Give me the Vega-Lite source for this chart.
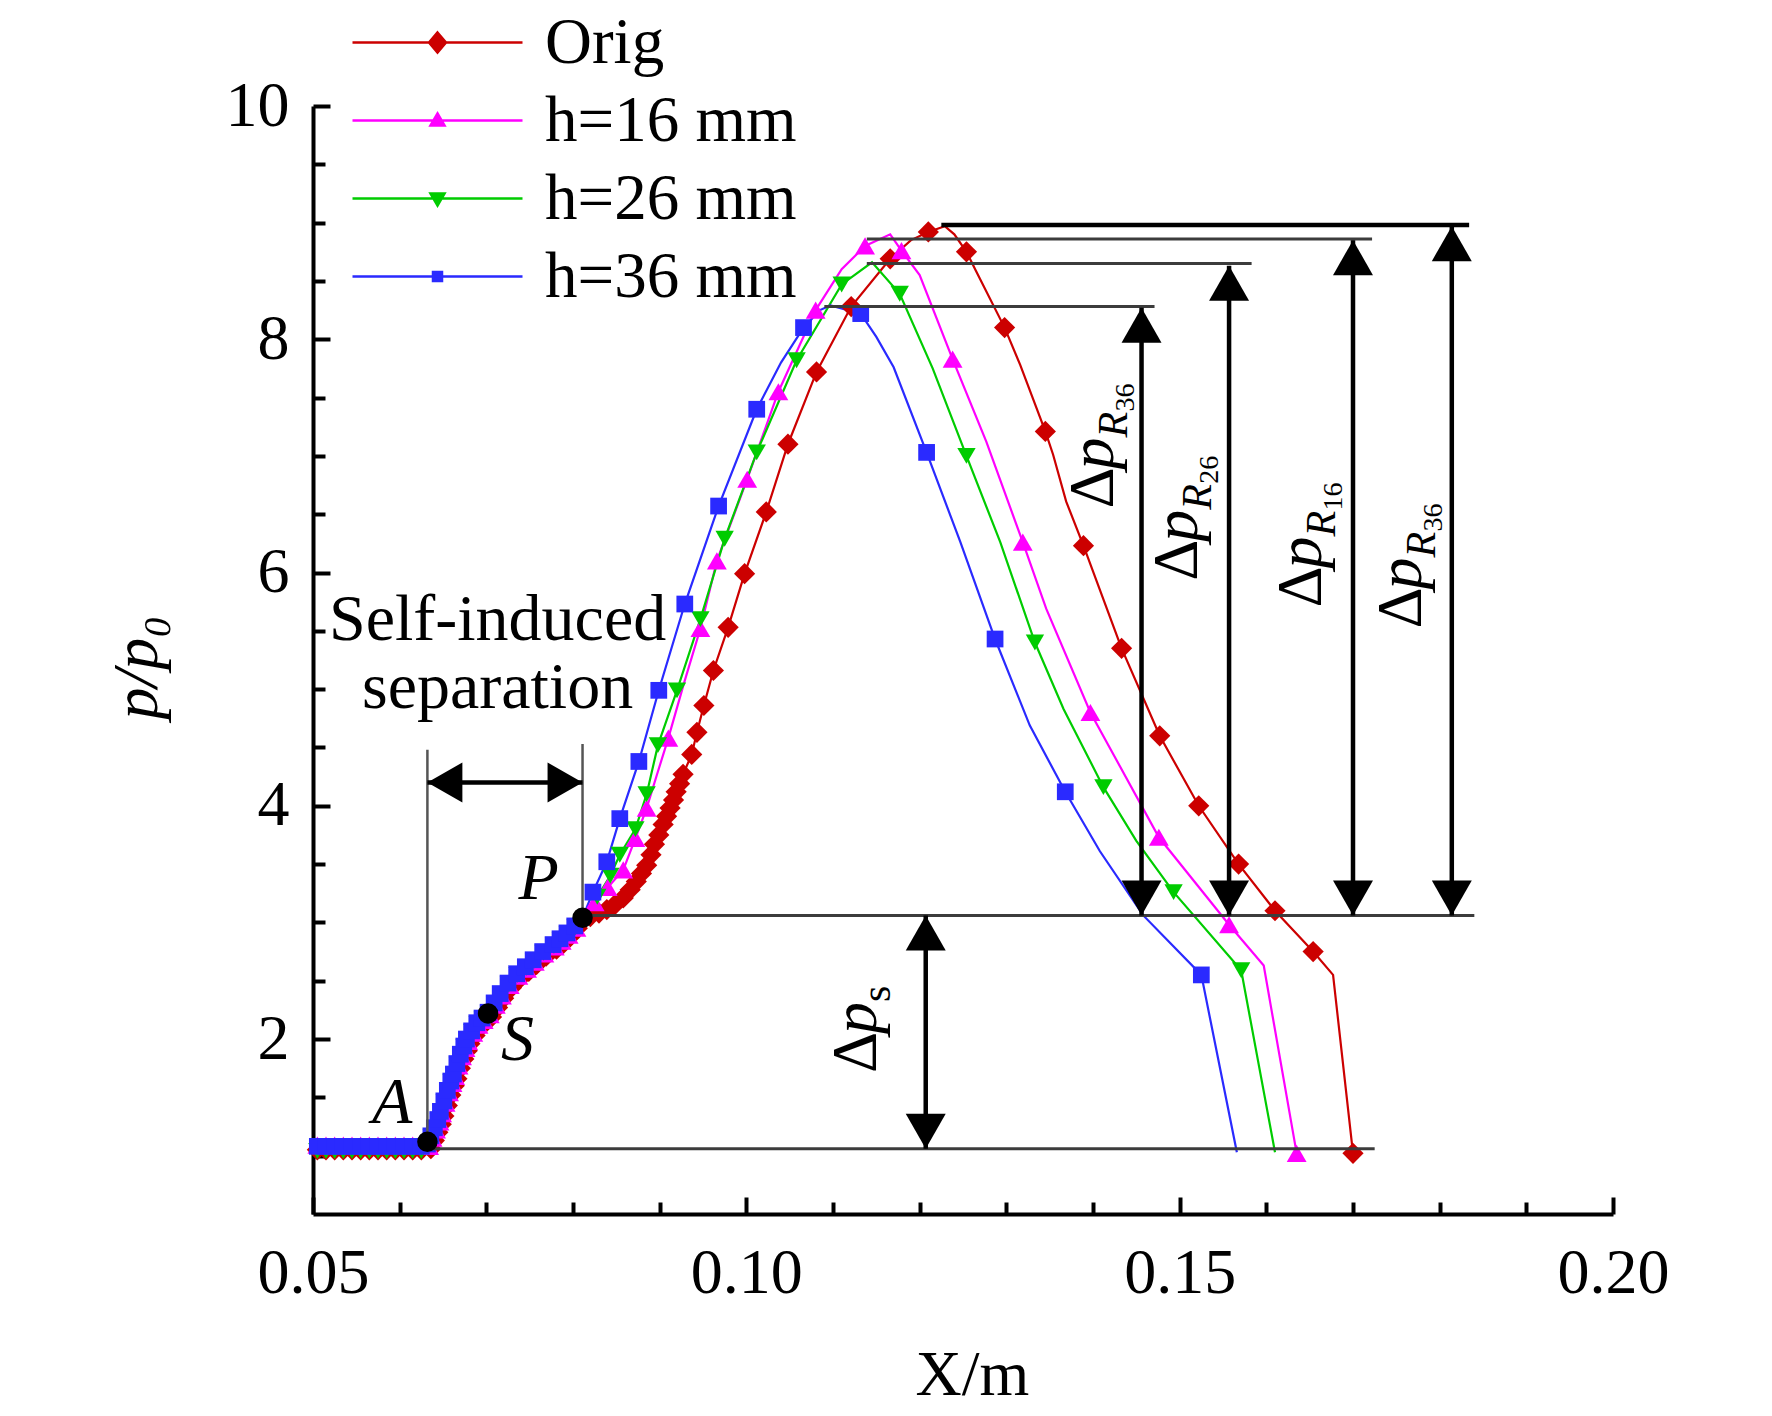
{
  "$schema": "https://vega.github.io/schema/vega-lite/v6.json",
  "width": 1300,
  "height": 1108,
  "autosize": "none",
  "padding": {"left": 313, "top": 106, "right": 159, "bottom": 202},
  "background": "white",
  "config": {
    "view": {"stroke": null},
    "font": "Liberation Serif",
    "axis": {"labelFont": "Liberation Serif", "titleFont": "Liberation Serif", "labelColor": "black", "titleColor": "black"}
  },
  "datasets": {
    "lines": [
      {"series": "Orig", "x": 0.0500, "y": 1.05}, {"series": "Orig", "x": 0.0634, "y": 1.05},
      {"series": "Orig", "x": 0.0640, "y": 1.13}, {"series": "Orig", "x": 0.0644, "y": 1.20},
      {"series": "Orig", "x": 0.0651, "y": 1.34}, {"series": "Orig", "x": 0.0659, "y": 1.52},
      {"series": "Orig", "x": 0.0666, "y": 1.66}, {"series": "Orig", "x": 0.0674, "y": 1.83},
      {"series": "Orig", "x": 0.0681, "y": 1.96}, {"series": "Orig", "x": 0.0693, "y": 2.10},
      {"series": "Orig", "x": 0.0706, "y": 2.19}, {"series": "Orig", "x": 0.0720, "y": 2.35},
      {"series": "Orig", "x": 0.0739, "y": 2.52}, {"series": "Orig", "x": 0.0758, "y": 2.64},
      {"series": "Orig", "x": 0.0781, "y": 2.77}, {"series": "Orig", "x": 0.0797, "y": 2.88},
      {"series": "Orig", "x": 0.0811, "y": 3.03}, {"series": "Orig", "x": 0.0820, "y": 3.05},
      {"series": "Orig", "x": 0.0830, "y": 3.08}, {"series": "Orig", "x": 0.0839, "y": 3.11},
      {"series": "Orig", "x": 0.0848, "y": 3.15}, {"series": "Orig", "x": 0.0858, "y": 3.21},
      {"series": "Orig", "x": 0.0866, "y": 3.28}, {"series": "Orig", "x": 0.0873, "y": 3.35},
      {"series": "Orig", "x": 0.0879, "y": 3.42}, {"series": "Orig", "x": 0.0885, "y": 3.49},
      {"series": "Orig", "x": 0.0890, "y": 3.58}, {"series": "Orig", "x": 0.0894, "y": 3.67},
      {"series": "Orig", "x": 0.0899, "y": 3.75}, {"series": "Orig", "x": 0.0904, "y": 3.84},
      {"series": "Orig", "x": 0.0908, "y": 3.91}, {"series": "Orig", "x": 0.0912, "y": 3.98},
      {"series": "Orig", "x": 0.0916, "y": 4.05}, {"series": "Orig", "x": 0.0919, "y": 4.12},
      {"series": "Orig", "x": 0.0923, "y": 4.19}, {"series": "Orig", "x": 0.0927, "y": 4.27},
      {"series": "Orig", "x": 0.0937, "y": 4.44}, {"series": "Orig", "x": 0.0943, "y": 4.63},
      {"series": "Orig", "x": 0.0951, "y": 4.86}, {"series": "Orig", "x": 0.0962, "y": 5.16},
      {"series": "Orig", "x": 0.0979, "y": 5.53}, {"series": "Orig", "x": 0.0998, "y": 5.99},
      {"series": "Orig", "x": 0.1023, "y": 6.52}, {"series": "Orig", "x": 0.1048, "y": 7.10},
      {"series": "Orig", "x": 0.1081, "y": 7.72}, {"series": "Orig", "x": 0.1121, "y": 8.28},
      {"series": "Orig", "x": 0.1166, "y": 8.69}, {"series": "Orig", "x": 0.1190, "y": 8.85},
      {"series": "Orig", "x": 0.1210, "y": 8.92}, {"series": "Orig", "x": 0.1229, "y": 8.97},
      {"series": "Orig", "x": 0.1240, "y": 8.90}, {"series": "Orig", "x": 0.1254, "y": 8.75},
      {"series": "Orig", "x": 0.1264, "y": 8.60}, {"series": "Orig", "x": 0.1298, "y": 8.10},
      {"series": "Orig", "x": 0.1316, "y": 7.78}, {"series": "Orig", "x": 0.1345, "y": 7.21},
      {"series": "Orig", "x": 0.1354, "y": 7.01}, {"series": "Orig", "x": 0.1369, "y": 6.61},
      {"series": "Orig", "x": 0.1389, "y": 6.23}, {"series": "Orig", "x": 0.1433, "y": 5.35},
      {"series": "Orig", "x": 0.1477, "y": 4.60}, {"series": "Orig", "x": 0.1522, "y": 4.00},
      {"series": "Orig", "x": 0.1568, "y": 3.50}, {"series": "Orig", "x": 0.1610, "y": 3.10},
      {"series": "Orig", "x": 0.1654, "y": 2.75}, {"series": "Orig", "x": 0.1677, "y": 2.55},
      {"series": "Orig", "x": 0.1700, "y": 1.02},

      {"series": "h=16 mm", "x": 0.0500, "y": 1.09}, {"series": "h=16 mm", "x": 0.0632, "y": 1.09},
      {"series": "h=16 mm", "x": 0.0638, "y": 1.15}, {"series": "h=16 mm", "x": 0.0642, "y": 1.22},
      {"series": "h=16 mm", "x": 0.0649, "y": 1.36}, {"series": "h=16 mm", "x": 0.0657, "y": 1.54},
      {"series": "h=16 mm", "x": 0.0664, "y": 1.68}, {"series": "h=16 mm", "x": 0.0672, "y": 1.85},
      {"series": "h=16 mm", "x": 0.0679, "y": 1.98}, {"series": "h=16 mm", "x": 0.0691, "y": 2.12},
      {"series": "h=16 mm", "x": 0.0704, "y": 2.21}, {"series": "h=16 mm", "x": 0.0718, "y": 2.37},
      {"series": "h=16 mm", "x": 0.0737, "y": 2.54}, {"series": "h=16 mm", "x": 0.0756, "y": 2.66},
      {"series": "h=16 mm", "x": 0.0779, "y": 2.79}, {"series": "h=16 mm", "x": 0.0795, "y": 2.89},
      {"series": "h=16 mm", "x": 0.0811, "y": 3.04}, {"series": "h=16 mm", "x": 0.0825, "y": 3.17},
      {"series": "h=16 mm", "x": 0.0840, "y": 3.30}, {"series": "h=16 mm", "x": 0.0858, "y": 3.45},
      {"series": "h=16 mm", "x": 0.0872, "y": 3.72}, {"series": "h=16 mm", "x": 0.0885, "y": 3.98},
      {"series": "h=16 mm", "x": 0.0897, "y": 4.27}, {"series": "h=16 mm", "x": 0.0910, "y": 4.58},
      {"series": "h=16 mm", "x": 0.0928, "y": 5.05}, {"series": "h=16 mm", "x": 0.0947, "y": 5.52},
      {"series": "h=16 mm", "x": 0.0966, "y": 6.10}, {"series": "h=16 mm", "x": 0.1001, "y": 6.80},
      {"series": "h=16 mm", "x": 0.1037, "y": 7.55}, {"series": "h=16 mm", "x": 0.1080, "y": 8.25},
      {"series": "h=16 mm", "x": 0.1110, "y": 8.60}, {"series": "h=16 mm", "x": 0.1137, "y": 8.80},
      {"series": "h=16 mm", "x": 0.1166, "y": 8.90}, {"series": "h=16 mm", "x": 0.1179, "y": 8.76},
      {"series": "h=16 mm", "x": 0.1200, "y": 8.55}, {"series": "h=16 mm", "x": 0.1238, "y": 7.83},
      {"series": "h=16 mm", "x": 0.1277, "y": 7.12}, {"series": "h=16 mm", "x": 0.1319, "y": 6.26},
      {"series": "h=16 mm", "x": 0.1346, "y": 5.69}, {"series": "h=16 mm", "x": 0.1397, "y": 4.80},
      {"series": "h=16 mm", "x": 0.1476, "y": 3.73}, {"series": "h=16 mm", "x": 0.1557, "y": 2.98},
      {"series": "h=16 mm", "x": 0.1597, "y": 2.63}, {"series": "h=16 mm", "x": 0.1635, "y": 1.02},

      {"series": "h=26 mm", "x": 0.0500, "y": 1.04}, {"series": "h=26 mm", "x": 0.0631, "y": 1.04},
      {"series": "h=26 mm", "x": 0.0637, "y": 1.16}, {"series": "h=26 mm", "x": 0.0641, "y": 1.23},
      {"series": "h=26 mm", "x": 0.0648, "y": 1.37}, {"series": "h=26 mm", "x": 0.0656, "y": 1.55},
      {"series": "h=26 mm", "x": 0.0663, "y": 1.69}, {"series": "h=26 mm", "x": 0.0671, "y": 1.86},
      {"series": "h=26 mm", "x": 0.0678, "y": 1.99}, {"series": "h=26 mm", "x": 0.0690, "y": 2.13},
      {"series": "h=26 mm", "x": 0.0703, "y": 2.22}, {"series": "h=26 mm", "x": 0.0717, "y": 2.38},
      {"series": "h=26 mm", "x": 0.0736, "y": 2.55}, {"series": "h=26 mm", "x": 0.0755, "y": 2.67},
      {"series": "h=26 mm", "x": 0.0778, "y": 2.80}, {"series": "h=26 mm", "x": 0.0794, "y": 2.90},
      {"series": "h=26 mm", "x": 0.0811, "y": 3.04}, {"series": "h=26 mm", "x": 0.0828, "y": 3.22},
      {"series": "h=26 mm", "x": 0.0843, "y": 3.40}, {"series": "h=26 mm", "x": 0.0854, "y": 3.58},
      {"series": "h=26 mm", "x": 0.0872, "y": 3.80}, {"series": "h=26 mm", "x": 0.0885, "y": 4.10},
      {"series": "h=26 mm", "x": 0.0898, "y": 4.52}, {"series": "h=26 mm", "x": 0.0920, "y": 4.99},
      {"series": "h=26 mm", "x": 0.0947, "y": 5.60}, {"series": "h=26 mm", "x": 0.0975, "y": 6.29},
      {"series": "h=26 mm", "x": 0.1012, "y": 7.03}, {"series": "h=26 mm", "x": 0.1058, "y": 7.82},
      {"series": "h=26 mm", "x": 0.1110, "y": 8.47}, {"series": "h=26 mm", "x": 0.1145, "y": 8.66},
      {"series": "h=26 mm", "x": 0.1177, "y": 8.39}, {"series": "h=26 mm", "x": 0.1215, "y": 7.75},
      {"series": "h=26 mm", "x": 0.1254, "y": 7.00}, {"series": "h=26 mm", "x": 0.1293, "y": 6.26},
      {"series": "h=26 mm", "x": 0.1333, "y": 5.40}, {"series": "h=26 mm", "x": 0.1366, "y": 4.83},
      {"series": "h=26 mm", "x": 0.1412, "y": 4.16}, {"series": "h=26 mm", "x": 0.1450, "y": 3.70},
      {"series": "h=26 mm", "x": 0.1493, "y": 3.26}, {"series": "h=26 mm", "x": 0.1571, "y": 2.59},
      {"series": "h=26 mm", "x": 0.1610, "y": 1.03},

      {"series": "h=36 mm", "x": 0.0500, "y": 1.08}, {"series": "h=36 mm", "x": 0.0630, "y": 1.08},
      {"series": "h=36 mm", "x": 0.0632, "y": 1.10}, {"series": "h=36 mm", "x": 0.0640, "y": 1.24},
      {"series": "h=36 mm", "x": 0.0647, "y": 1.38}, {"series": "h=36 mm", "x": 0.0655, "y": 1.56},
      {"series": "h=36 mm", "x": 0.0662, "y": 1.70}, {"series": "h=36 mm", "x": 0.0670, "y": 1.87},
      {"series": "h=36 mm", "x": 0.0677, "y": 2.00}, {"series": "h=36 mm", "x": 0.0689, "y": 2.14},
      {"series": "h=36 mm", "x": 0.0702, "y": 2.23}, {"series": "h=36 mm", "x": 0.0716, "y": 2.39},
      {"series": "h=36 mm", "x": 0.0735, "y": 2.56}, {"series": "h=36 mm", "x": 0.0754, "y": 2.68},
      {"series": "h=36 mm", "x": 0.0777, "y": 2.81}, {"series": "h=36 mm", "x": 0.0793, "y": 2.91},
      {"series": "h=36 mm", "x": 0.0811, "y": 3.04}, {"series": "h=36 mm", "x": 0.0823, "y": 3.26},
      {"series": "h=36 mm", "x": 0.0839, "y": 3.52}, {"series": "h=36 mm", "x": 0.0854, "y": 3.89},
      {"series": "h=36 mm", "x": 0.0876, "y": 4.38}, {"series": "h=36 mm", "x": 0.0899, "y": 4.99},
      {"series": "h=36 mm", "x": 0.0929, "y": 5.73}, {"series": "h=36 mm", "x": 0.0968, "y": 6.57},
      {"series": "h=36 mm", "x": 0.1012, "y": 7.40}, {"series": "h=36 mm", "x": 0.1040, "y": 7.80},
      {"series": "h=36 mm", "x": 0.1066, "y": 8.10}, {"series": "h=36 mm", "x": 0.1085, "y": 8.25},
      {"series": "h=36 mm", "x": 0.1097, "y": 8.29}, {"series": "h=36 mm", "x": 0.1132, "y": 8.22},
      {"series": "h=36 mm", "x": 0.1150, "y": 8.02}, {"series": "h=36 mm", "x": 0.1170, "y": 7.76},
      {"series": "h=36 mm", "x": 0.1208, "y": 7.03}, {"series": "h=36 mm", "x": 0.1247, "y": 6.26},
      {"series": "h=36 mm", "x": 0.1287, "y": 5.43}, {"series": "h=36 mm", "x": 0.1327, "y": 4.69},
      {"series": "h=36 mm", "x": 0.1368, "y": 4.12}, {"series": "h=36 mm", "x": 0.1408, "y": 3.61},
      {"series": "h=36 mm", "x": 0.1458, "y": 3.06}, {"series": "h=36 mm", "x": 0.1525, "y": 2.55},
      {"series": "h=36 mm", "x": 0.1566, "y": 1.03}
    ],
    "markers": [
      {"series": "Orig", "x": 0.0505, "y": 1.05}, {"series": "Orig", "x": 0.0515, "y": 1.05},
      {"series": "Orig", "x": 0.0525, "y": 1.05}, {"series": "Orig", "x": 0.0535, "y": 1.05},
      {"series": "Orig", "x": 0.0545, "y": 1.05}, {"series": "Orig", "x": 0.0555, "y": 1.05},
      {"series": "Orig", "x": 0.0565, "y": 1.05}, {"series": "Orig", "x": 0.0575, "y": 1.05},
      {"series": "Orig", "x": 0.0585, "y": 1.05}, {"series": "Orig", "x": 0.0595, "y": 1.05},
      {"series": "Orig", "x": 0.0605, "y": 1.05}, {"series": "Orig", "x": 0.0615, "y": 1.05},
      {"series": "Orig", "x": 0.0625, "y": 1.05}, {"series": "Orig", "x": 0.0636, "y": 1.06},
      {"series": "Orig", "x": 0.0640, "y": 1.13}, {"series": "Orig", "x": 0.0644, "y": 1.20},
      {"series": "Orig", "x": 0.0648, "y": 1.27}, {"series": "Orig", "x": 0.0651, "y": 1.34},
      {"series": "Orig", "x": 0.0655, "y": 1.43}, {"series": "Orig", "x": 0.0659, "y": 1.52},
      {"series": "Orig", "x": 0.0663, "y": 1.60}, {"series": "Orig", "x": 0.0666, "y": 1.66},
      {"series": "Orig", "x": 0.0670, "y": 1.75}, {"series": "Orig", "x": 0.0674, "y": 1.83},
      {"series": "Orig", "x": 0.0678, "y": 1.90}, {"series": "Orig", "x": 0.0681, "y": 1.96},
      {"series": "Orig", "x": 0.0687, "y": 2.03}, {"series": "Orig", "x": 0.0693, "y": 2.10},
      {"series": "Orig", "x": 0.0699, "y": 2.14}, {"series": "Orig", "x": 0.0706, "y": 2.19},
      {"series": "Orig", "x": 0.0713, "y": 2.27}, {"series": "Orig", "x": 0.0720, "y": 2.35},
      {"series": "Orig", "x": 0.0729, "y": 2.44}, {"series": "Orig", "x": 0.0739, "y": 2.52},
      {"series": "Orig", "x": 0.0749, "y": 2.58}, {"series": "Orig", "x": 0.0758, "y": 2.64},
      {"series": "Orig", "x": 0.0769, "y": 2.71}, {"series": "Orig", "x": 0.0781, "y": 2.77},
      {"series": "Orig", "x": 0.0789, "y": 2.82}, {"series": "Orig", "x": 0.0797, "y": 2.88},
      {"series": "Orig", "x": 0.0805, "y": 2.95}, {"series": "Orig", "x": 0.0820, "y": 3.05},
      {"series": "Orig", "x": 0.0830, "y": 3.08}, {"series": "Orig", "x": 0.0839, "y": 3.11},
      {"series": "Orig", "x": 0.0848, "y": 3.15}, {"series": "Orig", "x": 0.0858, "y": 3.21},
      {"series": "Orig", "x": 0.0866, "y": 3.28}, {"series": "Orig", "x": 0.0873, "y": 3.35},
      {"series": "Orig", "x": 0.0879, "y": 3.42}, {"series": "Orig", "x": 0.0885, "y": 3.49},
      {"series": "Orig", "x": 0.0890, "y": 3.58}, {"series": "Orig", "x": 0.0894, "y": 3.67},
      {"series": "Orig", "x": 0.0899, "y": 3.75}, {"series": "Orig", "x": 0.0904, "y": 3.84},
      {"series": "Orig", "x": 0.0908, "y": 3.91}, {"series": "Orig", "x": 0.0912, "y": 3.98},
      {"series": "Orig", "x": 0.0916, "y": 4.05}, {"series": "Orig", "x": 0.0919, "y": 4.12},
      {"series": "Orig", "x": 0.0923, "y": 4.19}, {"series": "Orig", "x": 0.0927, "y": 4.27},
      {"series": "Orig", "x": 0.0937, "y": 4.44}, {"series": "Orig", "x": 0.0943, "y": 4.63},
      {"series": "Orig", "x": 0.0951, "y": 4.86}, {"series": "Orig", "x": 0.0962, "y": 5.16},
      {"series": "Orig", "x": 0.0979, "y": 5.53}, {"series": "Orig", "x": 0.0998, "y": 5.99},
      {"series": "Orig", "x": 0.1023, "y": 6.52}, {"series": "Orig", "x": 0.1048, "y": 7.10},
      {"series": "Orig", "x": 0.1081, "y": 7.72}, {"series": "Orig", "x": 0.1121, "y": 8.28},
      {"series": "Orig", "x": 0.1166, "y": 8.69}, {"series": "Orig", "x": 0.1210, "y": 8.92},
      {"series": "Orig", "x": 0.1254, "y": 8.75}, {"series": "Orig", "x": 0.1298, "y": 8.10},
      {"series": "Orig", "x": 0.1345, "y": 7.21}, {"series": "Orig", "x": 0.1389, "y": 6.23},
      {"series": "Orig", "x": 0.1433, "y": 5.35}, {"series": "Orig", "x": 0.1477, "y": 4.60},
      {"series": "Orig", "x": 0.1522, "y": 4.00}, {"series": "Orig", "x": 0.1568, "y": 3.50},
      {"series": "Orig", "x": 0.1610, "y": 3.10}, {"series": "Orig", "x": 0.1654, "y": 2.75},
      {"series": "Orig", "x": 0.1700, "y": 1.02},

      {"series": "h=16 mm", "x": 0.0505, "y": 1.09}, {"series": "h=16 mm", "x": 0.0515, "y": 1.09},
      {"series": "h=16 mm", "x": 0.0525, "y": 1.09}, {"series": "h=16 mm", "x": 0.0535, "y": 1.09},
      {"series": "h=16 mm", "x": 0.0545, "y": 1.09}, {"series": "h=16 mm", "x": 0.0555, "y": 1.09},
      {"series": "h=16 mm", "x": 0.0565, "y": 1.09}, {"series": "h=16 mm", "x": 0.0575, "y": 1.09},
      {"series": "h=16 mm", "x": 0.0585, "y": 1.09}, {"series": "h=16 mm", "x": 0.0595, "y": 1.09},
      {"series": "h=16 mm", "x": 0.0605, "y": 1.09}, {"series": "h=16 mm", "x": 0.0615, "y": 1.09},
      {"series": "h=16 mm", "x": 0.0625, "y": 1.09}, {"series": "h=16 mm", "x": 0.0634, "y": 1.08},
      {"series": "h=16 mm", "x": 0.0638, "y": 1.15}, {"series": "h=16 mm", "x": 0.0642, "y": 1.22},
      {"series": "h=16 mm", "x": 0.0646, "y": 1.29}, {"series": "h=16 mm", "x": 0.0649, "y": 1.36},
      {"series": "h=16 mm", "x": 0.0653, "y": 1.45}, {"series": "h=16 mm", "x": 0.0657, "y": 1.54},
      {"series": "h=16 mm", "x": 0.0661, "y": 1.62}, {"series": "h=16 mm", "x": 0.0664, "y": 1.68},
      {"series": "h=16 mm", "x": 0.0668, "y": 1.77}, {"series": "h=16 mm", "x": 0.0672, "y": 1.85},
      {"series": "h=16 mm", "x": 0.0676, "y": 1.92}, {"series": "h=16 mm", "x": 0.0679, "y": 1.98},
      {"series": "h=16 mm", "x": 0.0685, "y": 2.05}, {"series": "h=16 mm", "x": 0.0691, "y": 2.12},
      {"series": "h=16 mm", "x": 0.0697, "y": 2.16}, {"series": "h=16 mm", "x": 0.0704, "y": 2.21},
      {"series": "h=16 mm", "x": 0.0711, "y": 2.29}, {"series": "h=16 mm", "x": 0.0718, "y": 2.37},
      {"series": "h=16 mm", "x": 0.0727, "y": 2.46}, {"series": "h=16 mm", "x": 0.0737, "y": 2.54},
      {"series": "h=16 mm", "x": 0.0747, "y": 2.60}, {"series": "h=16 mm", "x": 0.0756, "y": 2.66},
      {"series": "h=16 mm", "x": 0.0767, "y": 2.73}, {"series": "h=16 mm", "x": 0.0779, "y": 2.79},
      {"series": "h=16 mm", "x": 0.0787, "y": 2.84}, {"series": "h=16 mm", "x": 0.0795, "y": 2.89},
      {"series": "h=16 mm", "x": 0.0804, "y": 2.95}, {"series": "h=16 mm", "x": 0.0825, "y": 3.17},
      {"series": "h=16 mm", "x": 0.0840, "y": 3.30}, {"series": "h=16 mm", "x": 0.0858, "y": 3.45},
      {"series": "h=16 mm", "x": 0.0872, "y": 3.72}, {"series": "h=16 mm", "x": 0.0885, "y": 3.98},
      {"series": "h=16 mm", "x": 0.0910, "y": 4.58}, {"series": "h=16 mm", "x": 0.0947, "y": 5.52},
      {"series": "h=16 mm", "x": 0.0966, "y": 6.10}, {"series": "h=16 mm", "x": 0.1001, "y": 6.80},
      {"series": "h=16 mm", "x": 0.1037, "y": 7.55}, {"series": "h=16 mm", "x": 0.1080, "y": 8.25},
      {"series": "h=16 mm", "x": 0.1137, "y": 8.80}, {"series": "h=16 mm", "x": 0.1179, "y": 8.76},
      {"series": "h=16 mm", "x": 0.1238, "y": 7.83}, {"series": "h=16 mm", "x": 0.1319, "y": 6.26},
      {"series": "h=16 mm", "x": 0.1397, "y": 4.80}, {"series": "h=16 mm", "x": 0.1476, "y": 3.73},
      {"series": "h=16 mm", "x": 0.1557, "y": 2.98}, {"series": "h=16 mm", "x": 0.1635, "y": 1.02},

      {"series": "h=26 mm", "x": 0.0505, "y": 1.04}, {"series": "h=26 mm", "x": 0.0515, "y": 1.04},
      {"series": "h=26 mm", "x": 0.0525, "y": 1.04}, {"series": "h=26 mm", "x": 0.0535, "y": 1.04},
      {"series": "h=26 mm", "x": 0.0545, "y": 1.04}, {"series": "h=26 mm", "x": 0.0555, "y": 1.04},
      {"series": "h=26 mm", "x": 0.0565, "y": 1.04}, {"series": "h=26 mm", "x": 0.0575, "y": 1.04},
      {"series": "h=26 mm", "x": 0.0585, "y": 1.04}, {"series": "h=26 mm", "x": 0.0595, "y": 1.04},
      {"series": "h=26 mm", "x": 0.0605, "y": 1.04}, {"series": "h=26 mm", "x": 0.0615, "y": 1.04},
      {"series": "h=26 mm", "x": 0.0625, "y": 1.04}, {"series": "h=26 mm", "x": 0.0633, "y": 1.09},
      {"series": "h=26 mm", "x": 0.0637, "y": 1.16}, {"series": "h=26 mm", "x": 0.0641, "y": 1.23},
      {"series": "h=26 mm", "x": 0.0645, "y": 1.30}, {"series": "h=26 mm", "x": 0.0648, "y": 1.37},
      {"series": "h=26 mm", "x": 0.0652, "y": 1.46}, {"series": "h=26 mm", "x": 0.0656, "y": 1.55},
      {"series": "h=26 mm", "x": 0.0660, "y": 1.63}, {"series": "h=26 mm", "x": 0.0663, "y": 1.69},
      {"series": "h=26 mm", "x": 0.0667, "y": 1.78}, {"series": "h=26 mm", "x": 0.0671, "y": 1.86},
      {"series": "h=26 mm", "x": 0.0675, "y": 1.93}, {"series": "h=26 mm", "x": 0.0678, "y": 1.99},
      {"series": "h=26 mm", "x": 0.0684, "y": 2.06}, {"series": "h=26 mm", "x": 0.0690, "y": 2.13},
      {"series": "h=26 mm", "x": 0.0696, "y": 2.17}, {"series": "h=26 mm", "x": 0.0703, "y": 2.22},
      {"series": "h=26 mm", "x": 0.0710, "y": 2.30}, {"series": "h=26 mm", "x": 0.0717, "y": 2.38},
      {"series": "h=26 mm", "x": 0.0726, "y": 2.47}, {"series": "h=26 mm", "x": 0.0736, "y": 2.55},
      {"series": "h=26 mm", "x": 0.0746, "y": 2.61}, {"series": "h=26 mm", "x": 0.0755, "y": 2.67},
      {"series": "h=26 mm", "x": 0.0766, "y": 2.74}, {"series": "h=26 mm", "x": 0.0778, "y": 2.80},
      {"series": "h=26 mm", "x": 0.0786, "y": 2.85}, {"series": "h=26 mm", "x": 0.0794, "y": 2.90},
      {"series": "h=26 mm", "x": 0.0803, "y": 2.96}, {"series": "h=26 mm", "x": 0.0828, "y": 3.22},
      {"series": "h=26 mm", "x": 0.0843, "y": 3.40}, {"series": "h=26 mm", "x": 0.0854, "y": 3.58},
      {"series": "h=26 mm", "x": 0.0872, "y": 3.80}, {"series": "h=26 mm", "x": 0.0885, "y": 4.10},
      {"series": "h=26 mm", "x": 0.0898, "y": 4.52}, {"series": "h=26 mm", "x": 0.0920, "y": 4.99},
      {"series": "h=26 mm", "x": 0.0947, "y": 5.60}, {"series": "h=26 mm", "x": 0.0975, "y": 6.29},
      {"series": "h=26 mm", "x": 0.1012, "y": 7.03}, {"series": "h=26 mm", "x": 0.1058, "y": 7.82},
      {"series": "h=26 mm", "x": 0.1110, "y": 8.47}, {"series": "h=26 mm", "x": 0.1177, "y": 8.39},
      {"series": "h=26 mm", "x": 0.1254, "y": 7.00}, {"series": "h=26 mm", "x": 0.1333, "y": 5.40},
      {"series": "h=26 mm", "x": 0.1412, "y": 4.16}, {"series": "h=26 mm", "x": 0.1493, "y": 3.26},
      {"series": "h=26 mm", "x": 0.1571, "y": 2.59},

      {"series": "h=36 mm", "x": 0.0505, "y": 1.08}, {"series": "h=36 mm", "x": 0.0515, "y": 1.08},
      {"series": "h=36 mm", "x": 0.0525, "y": 1.08}, {"series": "h=36 mm", "x": 0.0535, "y": 1.08},
      {"series": "h=36 mm", "x": 0.0545, "y": 1.08}, {"series": "h=36 mm", "x": 0.0555, "y": 1.08},
      {"series": "h=36 mm", "x": 0.0565, "y": 1.08}, {"series": "h=36 mm", "x": 0.0575, "y": 1.08},
      {"series": "h=36 mm", "x": 0.0585, "y": 1.08}, {"series": "h=36 mm", "x": 0.0595, "y": 1.08},
      {"series": "h=36 mm", "x": 0.0605, "y": 1.08}, {"series": "h=36 mm", "x": 0.0615, "y": 1.08},
      {"series": "h=36 mm", "x": 0.0625, "y": 1.08}, {"series": "h=36 mm", "x": 0.0632, "y": 1.10},
      {"series": "h=36 mm", "x": 0.0636, "y": 1.17}, {"series": "h=36 mm", "x": 0.0640, "y": 1.24},
      {"series": "h=36 mm", "x": 0.0644, "y": 1.31}, {"series": "h=36 mm", "x": 0.0647, "y": 1.38},
      {"series": "h=36 mm", "x": 0.0651, "y": 1.47}, {"series": "h=36 mm", "x": 0.0655, "y": 1.56},
      {"series": "h=36 mm", "x": 0.0659, "y": 1.64}, {"series": "h=36 mm", "x": 0.0662, "y": 1.70},
      {"series": "h=36 mm", "x": 0.0666, "y": 1.79}, {"series": "h=36 mm", "x": 0.0670, "y": 1.87},
      {"series": "h=36 mm", "x": 0.0674, "y": 1.94}, {"series": "h=36 mm", "x": 0.0677, "y": 2.00},
      {"series": "h=36 mm", "x": 0.0683, "y": 2.07}, {"series": "h=36 mm", "x": 0.0689, "y": 2.14},
      {"series": "h=36 mm", "x": 0.0695, "y": 2.18}, {"series": "h=36 mm", "x": 0.0702, "y": 2.23},
      {"series": "h=36 mm", "x": 0.0709, "y": 2.31}, {"series": "h=36 mm", "x": 0.0716, "y": 2.39},
      {"series": "h=36 mm", "x": 0.0725, "y": 2.48}, {"series": "h=36 mm", "x": 0.0735, "y": 2.56},
      {"series": "h=36 mm", "x": 0.0745, "y": 2.62}, {"series": "h=36 mm", "x": 0.0754, "y": 2.68},
      {"series": "h=36 mm", "x": 0.0765, "y": 2.75}, {"series": "h=36 mm", "x": 0.0777, "y": 2.81},
      {"series": "h=36 mm", "x": 0.0785, "y": 2.86}, {"series": "h=36 mm", "x": 0.0793, "y": 2.91},
      {"series": "h=36 mm", "x": 0.0802, "y": 2.97}, {"series": "h=36 mm", "x": 0.0823, "y": 3.26},
      {"series": "h=36 mm", "x": 0.0839, "y": 3.52}, {"series": "h=36 mm", "x": 0.0854, "y": 3.89},
      {"series": "h=36 mm", "x": 0.0876, "y": 4.38}, {"series": "h=36 mm", "x": 0.0899, "y": 4.99},
      {"series": "h=36 mm", "x": 0.0929, "y": 5.73}, {"series": "h=36 mm", "x": 0.0968, "y": 6.57},
      {"series": "h=36 mm", "x": 0.1012, "y": 7.40}, {"series": "h=36 mm", "x": 0.1066, "y": 8.10},
      {"series": "h=36 mm", "x": 0.1132, "y": 8.22}, {"series": "h=36 mm", "x": 0.1208, "y": 7.03},
      {"series": "h=36 mm", "x": 0.1287, "y": 5.43}, {"series": "h=36 mm", "x": 0.1368, "y": 4.12},
      {"series": "h=36 mm", "x": 0.1525, "y": 2.55}
    ],
    "legend": [
      {"series": "Orig"}, {"series": "h=16 mm"}, {"series": "h=26 mm"}, {"series": "h=36 mm"}
    ],
    "refs": [
      {"kind": "top", "x": 0.1225, "x2": 0.1834, "y": 8.98, "y2": 8.98},
      {"kind": "ref", "x": 0.1139, "x2": 0.1722, "y": 8.86, "y2": 8.86},
      {"kind": "ref", "x": 0.1139, "x2": 0.1583, "y": 8.65, "y2": 8.65},
      {"kind": "ref", "x": 0.1090, "x2": 0.1471, "y": 8.28, "y2": 8.28},
      {"kind": "ref", "x": 0.0811, "x2": 0.1840, "y": 3.06, "y2": 3.06},
      {"kind": "ref", "x": 0.0632, "x2": 0.1725, "y": 1.06, "y2": 1.06},
      {"kind": "guide", "x": 0.0632, "x2": 0.0632, "y": 1.06, "y2": 4.48},
      {"kind": "guide", "x": 0.0811, "x2": 0.0811, "y": 3.04, "y2": 4.53},
      {"kind": "arrow", "x": 0.1456, "x2": 0.1456, "y": 3.06, "y2": 8.27},
      {"kind": "arrow", "x": 0.1557, "x2": 0.1557, "y": 3.06, "y2": 8.63},
      {"kind": "arrow", "x": 0.1700, "x2": 0.1700, "y": 3.06, "y2": 8.85},
      {"kind": "arrow", "x": 0.1814, "x2": 0.1814, "y": 3.06, "y2": 8.97},
      {"kind": "arrow", "x": 0.1207, "x2": 0.1207, "y": 1.06, "y2": 3.06},
      {"kind": "arrow", "x": 0.0632, "x2": 0.0811, "y": 4.20, "y2": 4.20}
    ],
    "heads": [
      {"dir": "up", "x": 0.1456, "y": 8.27}, {"dir": "down", "x": 0.1456, "y": 3.06},
      {"dir": "up", "x": 0.1557, "y": 8.63}, {"dir": "down", "x": 0.1557, "y": 3.06},
      {"dir": "up", "x": 0.1700, "y": 8.85}, {"dir": "down", "x": 0.1700, "y": 3.06},
      {"dir": "up", "x": 0.1814, "y": 8.97}, {"dir": "down", "x": 0.1814, "y": 3.06},
      {"dir": "up", "x": 0.1207, "y": 3.06}, {"dir": "down", "x": 0.1207, "y": 1.06},
      {"dir": "left", "x": 0.0632, "y": 4.20}, {"dir": "right", "x": 0.0811, "y": 4.20}
    ],
    "dots": [
      {"x": 0.0632, "y": 1.12}, {"x": 0.0702, "y": 2.22}, {"x": 0.0811, "y": 3.04}
    ],
    "notes": [
      {"x": 0.0713, "y": 5.42, "text": "Self-induced"},
      {"x": 0.0713, "y": 4.84, "text": "separation"}
    ],
    "letters": [
      {"x": 0.0737, "y": 3.20, "text": "P"},
      {"x": 0.0717, "y": 1.82, "text": "S"},
      {"x": 0.0568, "y": 1.28, "text": "A"}
    ],
    "dlabels": [
      {"x": 0.1423, "y": 6.55, "d": "Δ", "p": "p", "sub": "R", "sub2": "36"},
      {"x": 0.1520, "y": 5.93, "d": "Δ", "p": "p", "sub": "R", "sub2": "26"},
      {"x": 0.1663, "y": 5.70, "d": "Δ", "p": "p", "sub": "R", "sub2": "16"},
      {"x": 0.1779, "y": 5.52, "d": "Δ", "p": "p", "sub": "R", "sub2": "36"},
      {"x": 0.1150, "y": 1.71, "d": "Δ", "p": "p", "sub": "s", "sub2": ""}
    ]
  },
  "encoding": {
    "x": {
      "field": "x",
      "type": "quantitative",
      "scale": {"domain": [0.05, 0.2], "nice": false, "zero": false},
      "axis": {
        "values": [0.05, 0.06, 0.07, 0.08, 0.09, 0.1, 0.11, 0.12, 0.13, 0.14, 0.15, 0.16, 0.17, 0.18, 0.19, 0.2],
        "labelExpr": "abs(datum.value * 20 - round(datum.value * 20)) < 0.001 ? format(datum.value, '.2f') : ''",
        "tickSize": {"condition": {"test": "abs(datum.value * 20 - round(datum.value * 20)) < 0.001", "value": -17}, "value": -12},
        "tickWidth": 4,
        "tickColor": "black",
        "domainWidth": 4,
        "domainColor": "black",
        "grid": false,
        "labelFontSize": 64,
        "labelPadding": 44,
        "labelOverlap": false,
        "labelFlush": false,
        "title": "X/m",
        "titleFontSize": 64,
        "titleFontWeight": "normal",
        "titleX": 659,
        "titleY": 180,
        "titleBaseline": "alphabetic"
      }
    },
    "y": {
      "field": "y",
      "type": "quantitative",
      "scale": {"domain": [0.5, 10], "nice": false, "zero": false},
      "axis": {
        "values": [1, 1.5, 2, 2.5, 3, 3.5, 4, 4.5, 5, 5.5, 6, 6.5, 7, 7.5, 8, 8.5, 9, 9.5, 10],
        "labelExpr": "datum.value % 2 === 0 ? '' + datum.value : ''",
        "tickSize": {"condition": {"test": "datum.value % 2 === 0", "value": -17}, "value": -12},
        "tickWidth": 4,
        "tickColor": "black",
        "domainWidth": 4,
        "domainColor": "black",
        "grid": false,
        "labelFontSize": 64,
        "labelPadding": 41,
        "labelOverlap": false,
        "labelFlush": false,
        "title": "p/p₀",
        "titleFontSize": 64,
        "titleFontWeight": "normal",
        "titleFontStyle": "italic",
        "titleX": -157,
        "titleY": 561,
        "titleBaseline": "alphabetic"
      }
    }
  },
  "layer": [
    {
      "data": {"name": "lines"},
      "mark": {"type": "line", "strokeWidth": 2.2},
      "encoding": {
        "color": {
          "field": "series",
          "type": "nominal",
          "scale": {"domain": ["Orig", "h=16 mm", "h=26 mm", "h=36 mm"], "range": ["#cc0000", "#ff00ff", "#00cc00", "#2a2aff"]},
          "legend": null
        }
      }
    },
    {
      "data": {"name": "markers"},
      "mark": {"type": "point", "filled": true, "opacity": 1, "strokeWidth": 0},
      "encoding": {
        "color": {"field": "series", "type": "nominal", "legend": null},
        "shape": {
          "field": "series",
          "type": "nominal",
          "scale": {"domain": ["Orig", "h=16 mm", "h=26 mm", "h=36 mm"], "range": ["diamond", "triangle-up", "triangle-down", "square"]},
          "legend": null
        },
        "size": {
          "field": "series",
          "type": "nominal",
          "scale": {"domain": ["Orig", "h=16 mm", "h=26 mm", "h=36 mm"], "range": [450, 280, 280, 110]},
          "legend": null
        }
      }
    },
    {
      "data": {"name": "legend"},
      "mark": {"type": "point", "filled": true, "opacity": 1},
      "encoding": {
        "shape": {
          "field": "series",
          "type": "nominal",
          "scale": {
            "domain": ["Orig", "h=16 mm", "h=26 mm", "h=36 mm"],
            "range": [
              "M-8.5,0H8.5M0,-1L0.85,0L0,1L-0.85,0Z",
              "M-8.5,0H8.5M0,-0.7L0.7,0.5L-0.7,0.5Z",
              "M-8.5,0H8.5M0,0.7L0.7,-0.5L-0.7,-0.5Z",
              "M-8.5,0H8.5M-0.45,-0.45H0.45V0.45H-0.45Z"
            ]
          },
          "legend": {
            "orient": "none",
            "legendX": 92,
            "legendY": -96,
            "direction": "vertical",
            "title": null,
            "padding": 0,
            "symbolSize": 400,
            "symbolStrokeWidth": 2.5,
            "symbolOpacity": 1,
            "labelFont": "Liberation Serif",
            "labelFontSize": 65,
            "labelColor": "black",
            "labelOffset": 75,
            "labelLimit": 0,
            "rowPadding": 12
          }
        },
        "fill": {
          "field": "series",
          "type": "nominal",
          "scale": {"domain": ["Orig", "h=16 mm", "h=26 mm", "h=36 mm"], "range": ["#cc0000", "#ff00ff", "#00cc00", "#2a2aff"]}
        },
        "stroke": {
          "field": "series",
          "type": "nominal",
          "scale": {"domain": ["Orig", "h=16 mm", "h=26 mm", "h=36 mm"], "range": ["#cc0000", "#ff00ff", "#00cc00", "#2a2aff"]}
        }
      }
    },
    {
      "data": {"name": "refs"},
      "transform": [{"filter": "datum.kind === 'ref'"}],
      "mark": {"type": "rule", "color": "#3c3c3c", "strokeWidth": 3},
      "encoding": {"x2": {"field": "x2"}, "y2": {"field": "y2"}}
    },
    {
      "data": {"name": "refs"},
      "transform": [{"filter": "datum.kind === 'guide'"}],
      "mark": {"type": "rule", "color": "#555555", "strokeWidth": 2.5},
      "encoding": {"x2": {"field": "x2"}, "y2": {"field": "y2"}}
    },
    {
      "data": {"name": "refs"},
      "transform": [{"filter": "datum.kind === 'top' || datum.kind === 'arrow'"}],
      "mark": {"type": "rule", "color": "black", "strokeWidth": 4.5},
      "encoding": {"x2": {"field": "x2"}, "y2": {"field": "y2"}}
    },
    {
      "data": {"name": "heads"},
      "mark": {"type": "point", "filled": true, "opacity": 1, "color": "black", "size": 4900, "strokeWidth": 0},
      "encoding": {
        "shape": {
          "field": "dir",
          "type": "nominal",
          "scale": {
            "domain": ["up", "down", "left", "right"],
            "range": ["M0,0L0.571,1L-0.571,1Z", "M0,0L0.571,-1L-0.571,-1Z", "M0,0L1,-0.571L1,0.571Z", "M0,0L-1,-0.571L-1,0.571Z"]
          },
          "legend": null
        }
      }
    },
    {
      "data": {"name": "dots"},
      "mark": {"type": "point", "shape": "circle", "filled": true, "opacity": 1, "color": "black", "size": 420, "strokeWidth": 0}
    },
    {
      "data": {"name": "notes"},
      "mark": {"type": "text", "font": "Liberation Serif", "fontSize": 66, "align": "center", "baseline": "alphabetic", "color": "black"},
      "encoding": {"text": {"field": "text"}}
    },
    {
      "data": {"name": "letters"},
      "mark": {"type": "text", "font": "Liberation Serif", "fontSize": 66, "fontStyle": "italic", "align": "left", "baseline": "alphabetic", "color": "black"},
      "encoding": {"text": {"field": "text"}}
    },
    {
      "data": {"name": "dlabels"},
      "mark": {"type": "text", "font": "Liberation Serif", "fontSize": 64, "angle": 270, "align": "left", "baseline": "alphabetic", "color": "black"},
      "encoding": {"text": {"field": "d"}}
    },
    {
      "data": {"name": "dlabels"},
      "mark": {"type": "text", "font": "Liberation Serif", "fontSize": 64, "fontStyle": "italic", "angle": 270, "align": "left", "baseline": "alphabetic", "color": "black", "dx": 39},
      "encoding": {"text": {"field": "p"}}
    },
    {
      "data": {"name": "dlabels"},
      "transform": [{"filter": "datum.sub === 'R'"}],
      "mark": {"type": "text", "font": "Liberation Serif", "fontSize": 42, "fontStyle": "italic", "angle": 270, "align": "left", "baseline": "alphabetic", "color": "black", "dx": 71, "dy": 14},
      "encoding": {"text": {"field": "sub"}}
    },
    {
      "data": {"name": "dlabels"},
      "transform": [{"filter": "datum.sub === 's'"}],
      "mark": {"type": "text", "font": "Liberation Serif", "fontSize": 42, "angle": 270, "align": "left", "baseline": "alphabetic", "color": "black", "dx": 71, "dy": 14},
      "encoding": {"text": {"field": "sub"}}
    },
    {
      "data": {"name": "dlabels"},
      "transform": [{"filter": "datum.sub2 !== ''"}],
      "mark": {"type": "text", "font": "Liberation Serif", "fontSize": 28, "angle": 270, "align": "left", "baseline": "alphabetic", "color": "black", "dx": 97, "dy": 21},
      "encoding": {"text": {"field": "sub2"}}
    }
  ],
  "resolve": {"scale": {"shape": "independent", "fill": "independent", "stroke": "independent"}}
}
